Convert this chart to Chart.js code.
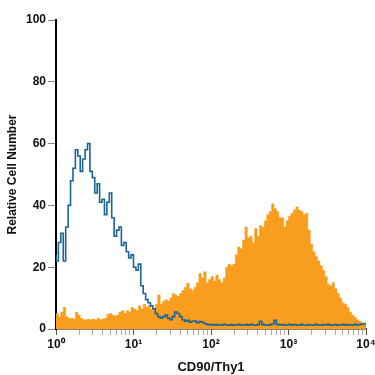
<!DOCTYPE html>
<html><head><meta charset="utf-8">
<script src="https://cdn.jsdelivr.net/npm/chart.js@4/dist/chart.umd.min.js"></script>
<style>html,body{margin:0;padding:0;background:#fff}#wrap{width:375px;height:375px}</style>
</head><body><div id="wrap"><canvas id="c" width="375" height="375"></canvas></div>
<script>
// Histogram bins: 128 equal-width bins on log10 scale from 10^0 to 10^4
const decades = [0, 1, 2, 3, 4];
const decadeLabels = ['10\u2070', '10\u00b9', '10\u00b2', '10\u00b3', '10\u2074'];
const yTicks = [0, 20, 40, 60, 80, 100];
const cd90Stained = [
 4.5,5,4,5.5,7,4,3.5,3.5,3.2,5.5,
 4.5,3.5,3,3,3.2,3,3.2,3,3.5,3,
 3.2,3.5,4.8,5,4.5,4.2,4.5,5.5,6,5,
 6,5.5,7,6.5,6,7.5,6.5,8,7,7.5,
 6.5,6,8,11,8,9,9.5,9,10,11.5,
 11,10.5,11.5,12.5,13.5,14.8,13,12.5,13.5,15,
 18,16.5,18.5,15,16,17,15.5,17.5,16,15,
 16.5,20,21,20.5,21,24,26.5,26,28.8,33,
 29.5,30,28,32.5,30,33.5,33,35,37,38,
 40.5,39,38,36,36,33,35,36.5,37.5,38.5,
 39.5,38.5,38,37,37.5,32,27.5,25,23.5,22,
 20.5,19,17,14.5,14,15,13,11.5,10,8.5,
 8,7,5.5,4.5,3.8,3,2.5,2
];
const isotypeControl = [
 24,22,28,31,22,33,40,48,52,58,
 56,51,55,58,60,51,49,44,47,41,
 42,37,41,44,36,30,32,33,27,28,
 25,23,24,20,19,21,14,11.5,9.5,8.5,
 7.5,6.5,5,4,3.5,4,4.5,3.5,3,4,
 5.5,5,4,3,2.5,2.8,2.2,2.5,2.6,2,
 2.4,2.2,1.8,1.5,1.3,1.5,1.2,1.4,1.3,1.2,
 1.5,1.3,1.2,1.4,1.2,1.3,1.5,1.2,1.3,1.4,
 1.2,1.5,1.3,1.2,1.4,2.5,1.5,1.3,1.2,1.4,
 1.6,2.8,1.5,1.3,1.4,1.2,1.3,1.5,1.2,1.4,
 1.3,1.2,1.5,1.3,1.2,1.4,1.3,1.2,1.5,1.3,
 1.2,1.4,1.3,1.5,1.2,1.3,1.4,1.2,1.3,1.5,
 1.2,1.4,1.3,1.2,1.5,1.3,1.4,1.6
];

function toSteps(arr){
  const n = arr.length, span = decades[decades.length-1];
  const pts = arr.map((v,i)=>({x: i*span/n, y: v}));
  pts.push({x: span, y: arr[n-1]});
  return pts;
}

const FONT = "'Liberation Sans Narrow','Liberation Sans',Arial,sans-serif";

new Chart(document.getElementById('c'), {
  type: 'line',
  data: {
    datasets: [
      {
        data: toSteps(isotypeControl),
        stepped: 'after',
        borderColor: '#1a6496',
        borderWidth: 1.6,
        pointRadius: 0,
        fill: false,
        order: 0
      },
      {
        data: toSteps(cd90Stained),
        stepped: 'after',
        borderColor: '#f99d1e',
        borderWidth: 0.5,
        backgroundColor: '#f99d1e',
        pointRadius: 0,
        fill: 'origin',
        order: 1
      }
    ]
  },
  options: {
    responsive: false,
    animation: false,
    plugins: { legend: { display: false }, tooltip: { enabled: false } },
    layout: { padding: { top: 20, right: 0, left: 0, bottom: 0 } },
    scales: {
      x: {
        type: 'linear',
        min: decades[0],
        max: decades[decades.length-1],
        afterBuildTicks: (scale) => {
          const t = [];
          decades.forEach((d, i) => {
            t.push({value: d});
            if (i < decades.length-1) for (let k = 2; k <= 9; k++) t.push({value: d + Math.log10(k)});
          });
          scale.ticks = t;
        },
        afterFit: (scale) => { scale.height = 46; scale.paddingRight = 9; },
        ticks: {
          autoSkip: false,
          maxRotation: 0,
          padding: 2,
          color: '#111',
          font: { family: FONT, size: 12, weight: 'bold' },
          callback: (v) => {
            const i = decades.indexOf(v);
            return i >= 0 ? decadeLabels[i] : '';
          }
        },
        grid: {
          drawOnChartArea: false,
          drawTicks: true,
          tickLength: 6,
          tickColor: (ctx) => (ctx.tick && decades.includes(ctx.tick.value)) ? '#555' : '#aaa'
        },
        border: { display: true, color: '#111', width: 1.5 },
        title: {
          display: true,
          text: 'CD90/Thy1',
          color: '#111',
          font: { family: FONT, size: 13, weight: 'bold' },
          padding: { top: 2, bottom: 0 }
        }
      },
      y: {
        min: 0,
        max: 100,
        afterBuildTicks: (scale) => { scale.ticks = yTicks.map(v => ({value: v})); },
        afterFit: (scale) => { scale.width = 56; },
        ticks: {
          padding: 2,
          color: '#111',
          font: { family: FONT, size: 12, weight: 'bold' }
        },
        grid: {
          drawOnChartArea: false,
          drawTicks: true,
          tickLength: 8,
          tickColor: '#888'
        },
        border: { display: true, color: '#000', width: 2 },
        title: {
          display: true,
          text: 'Relative Cell Number',
          color: '#111',
          font: { family: FONT, size: 12, weight: 'bold' },
          padding: { top: 5, bottom: 0 }
        }
      }
    }
  }
});
</script>
</body></html>
